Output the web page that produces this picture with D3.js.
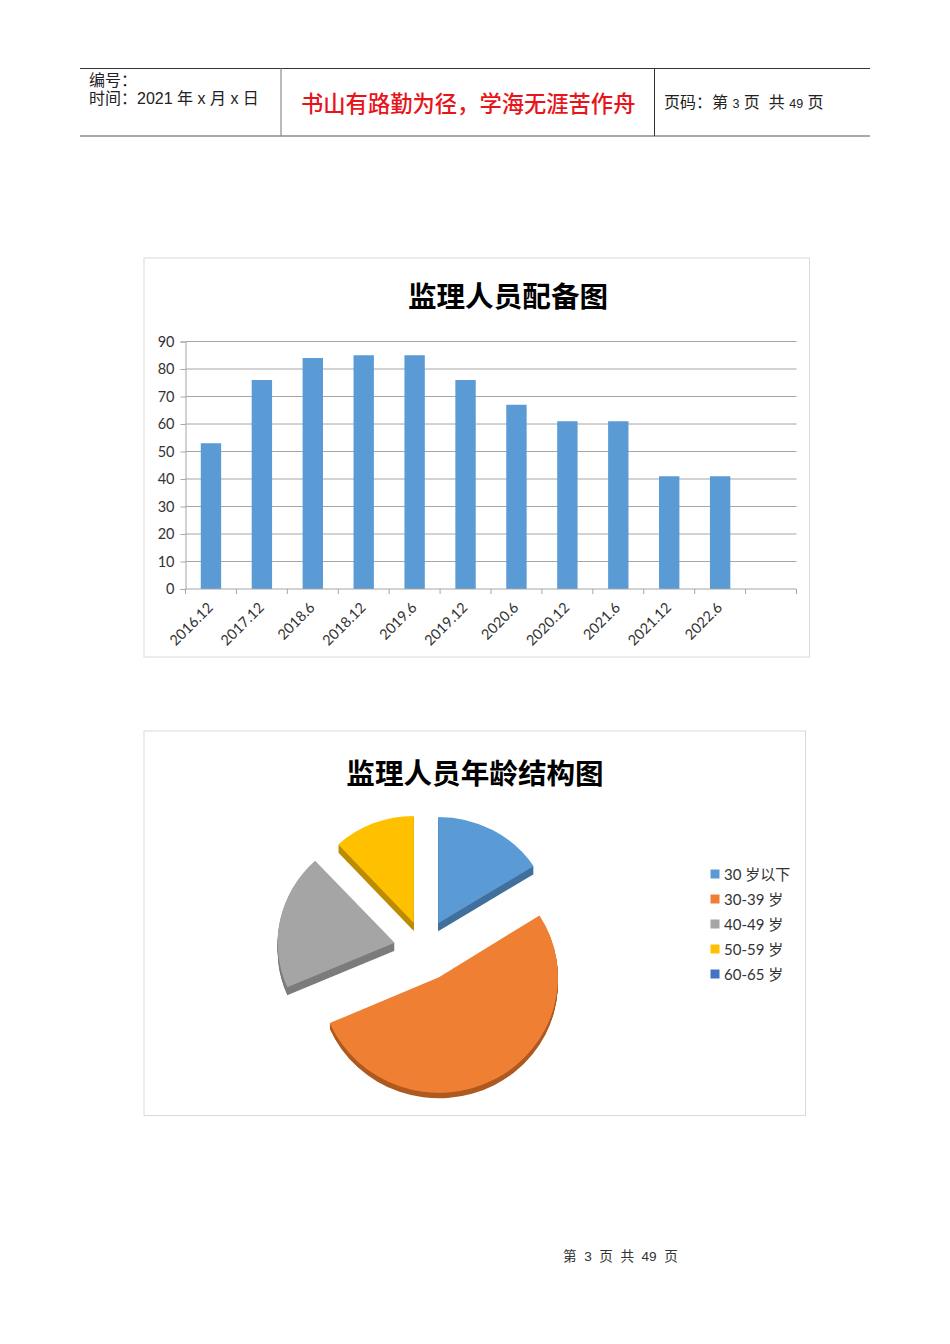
<!DOCTYPE html>
<html><head><meta charset="utf-8">
<script src="https://cdn.jsdelivr.net/npm/d3@7"></script>
<style>html,body{margin:0;padding:0;background:#fff}svg{display:block}
text{font-family:Lato,"Noto Sans CJK SC",sans-serif}
.hd text{font-family:"Liberation Sans","Noto Sans CJK SC",sans-serif;fill:#222}</style>
</head><body><svg id="c" width="950" height="1344"></svg>
<script>
const periods=["2016.12","2017.12","2018.6","2018.12","2019.6","2019.12","2020.6","2020.12","2021.6","2021.12","2022.6",""];
const staff=[53,76,84,85,85,76,67,61,61,41,41,null];
const yTicks=[0,10,20,30,40,50,60,70,80,90];
const ageGroups=["30 岁以下","30-39 岁","40-49 岁","50-59 岁","60-65 岁"];
const ageShare=[16,52.5,19.6,11.9,0];
const ageColors=["#5b9bd5","#ef8033","#a5a5a5","#ffc000","#4472c4"];
const sideColors=["#41719c","#ae5a21","#7c7c7c","#bc8c00","#2f5597"];
const explodeBy=[29.5,32,30,28,0];
const sliceRadius=[113,119,117,111,113];
const squash=[.94,.97,.957,.964,.94];

const svg=d3.select("#c");
svg.append("rect").attr("width",950).attr("height",1344).attr("fill","#fff");

// page header
const hd=svg.append("g").attr("class","hd");
const rule=(x1,y1,x2,y2,c,w)=>hd.append("line").attr("x1",x1).attr("y1",y1).attr("x2",x2).attr("y2",y2).attr("stroke",c).attr("stroke-width",w);
rule(80,68.5,870,68.5,"#333",1);
rule(80,136,870,136,"#8c8c8c",1.6);
rule(281,68.5,281,136,"#8c8c8c",1.2);
rule(654.5,68.5,654.5,136,"#333",1);
const t=(x,y,s,size,fill)=>hd.append("text").attr("x",x).attr("y",y).attr("font-size",size).style("fill",fill||"#222").text(s);
t(89,86,"编号：",16);
t(89,104,"时间：2021 年 x 月 x 日",16);
const red=t(301,112,"书山有路勤为径，学海无涯苦作舟",22.3,"#e8141c").attr("font-weight",500);
const pg=hd.append("text").attr("x",664).attr("y",108).attr("font-size",16);
[["页码：第 ",16],["3",12.5],[" 页",16],["\u00a0\u00a0共 ",16],["49",12.5],[" 页",16]].forEach(([s,z])=>pg.append("tspan").attr("font-size",z).text(s));
hd.append("text").attr("x",563).attr("y",1261).attr("font-size",13.6).attr("xml:space","preserve").style("fill","#333").text("第  3  页  共  49  页");

// bar chart
svg.append("rect").attr("x",144).attr("y",258).attr("width",665.5).attr("height",399).attr("fill","#fff").attr("stroke","#d9d9d9");
svg.append("text").attr("x",508).attr("y",307).attr("text-anchor","middle").attr("font-size",28.6).attr("font-weight",700).attr("fill","#000").text("监理人员配备图");
const x=d3.scaleBand().domain(periods.map((d,i)=>i)).range([185.5,796.5]).paddingInner(.6).paddingOuter(.3);
const y=d3.scaleLinear().domain([0,90]).range([589,341.5]);
const gy=svg.append("g").attr("transform","translate(185.5,0)")
 .call(d3.axisLeft(y).tickValues(yTicks).tickSize(5).tickPadding(6));
gy.select(".domain").attr("stroke","#a6a6a6");
gy.selectAll(".tick line").attr("stroke","#a6a6a6");
gy.selectAll(".tick text").attr("font-size",14.5).attr("font-family","Lato").attr("fill","#333");
svg.append("g").selectAll("line").data(yTicks.slice(1)).join("line")
 .attr("x1",185.5).attr("x2",796.5).attr("y1",d=>y(d)).attr("y2",d=>y(d)).attr("stroke","#a6a6a6");
svg.append("g").selectAll("rect").data(staff.filter(v=>v!=null)).join("rect")
 .attr("x",(d,i)=>x(i)).attr("width",x.bandwidth()).attr("y",d=>y(d)).attr("height",d=>y(0)-y(d)).attr("fill","#5b9bd5");
const step=x.step();
const gx=svg.append("g").attr("transform","translate(0,589)")
 .call(d3.axisBottom(x).tickSize(0).tickPadding(0).tickFormat(i=>periods[i]));
gx.select(".domain").attr("stroke","#a6a6a6").attr("d","M185.5,0H796.5");
gx.selectAll(".tick text").attr("font-size",14.5).attr("font-family","Lato").attr("fill","#333")
 .attr("text-anchor","end").attr("dy",0).attr("transform","translate(3,19.5) rotate(-45)");
gx.append("g").selectAll("line").data(d3.range(periods.length+1)).join("line")
 .attr("x1",i=>185.5+i*step).attr("x2",i=>185.5+i*step).attr("y1",0).attr("y2",5).attr("stroke","#a6a6a6");

// pie chart
svg.append("rect").attr("x",144).attr("y",731).attr("width",661.5).attr("height",384.5).attr("fill","#fff").attr("stroke","#d9d9d9");
svg.append("text").attr("x",475).attr("y",784).attr("text-anchor","middle").attr("font-size",28.6).attr("font-weight",700).attr("fill","#000").text("监理人员年龄结构图");
const pie=d3.pie().sort(null).value(d=>d).startAngle(0)(ageShare);
const depth=8;
const arc=d3.arc().innerRadius(0);
const center=[424,949];
const gp=svg.append("g").attr("transform",`translate(${center})`);
const place=(d,i,dy)=>{const m=(d.startAngle+d.endAngle)/2,e=explodeBy[i];
  return `translate(${e*Math.sin(m)},${-e*Math.cos(m)+dy}) scale(1,${squash[i]})`;};
pie.forEach((d,i)=>{ if(d.value===0) return;
  const g=gp.append("g"), path=arc.outerRadius(sliceRadius[i])(d);
  d3.range(depth,0,-1).forEach(k=>g.append("path").attr("d",path).attr("fill",sideColors[i]).attr("transform",place(d,i,i===1?k*.7:k)));
  g.append("path").attr("d",path).attr("fill",ageColors[i]).attr("transform",place(d,i,0));
});

// legend
const lg=svg.append("g").selectAll("g").data(ageGroups).join("g").attr("transform",(d,i)=>`translate(710.5,${874+i*25})`);
lg.append("rect").attr("y",-4.5).attr("width",9).attr("height",9).attr("fill",(d,i)=>ageColors[i]);
lg.append("text").attr("x",13.5).attr("y",6).attr("font-size",15).attr("fill","#333").text(d=>d);
</script></body></html>
